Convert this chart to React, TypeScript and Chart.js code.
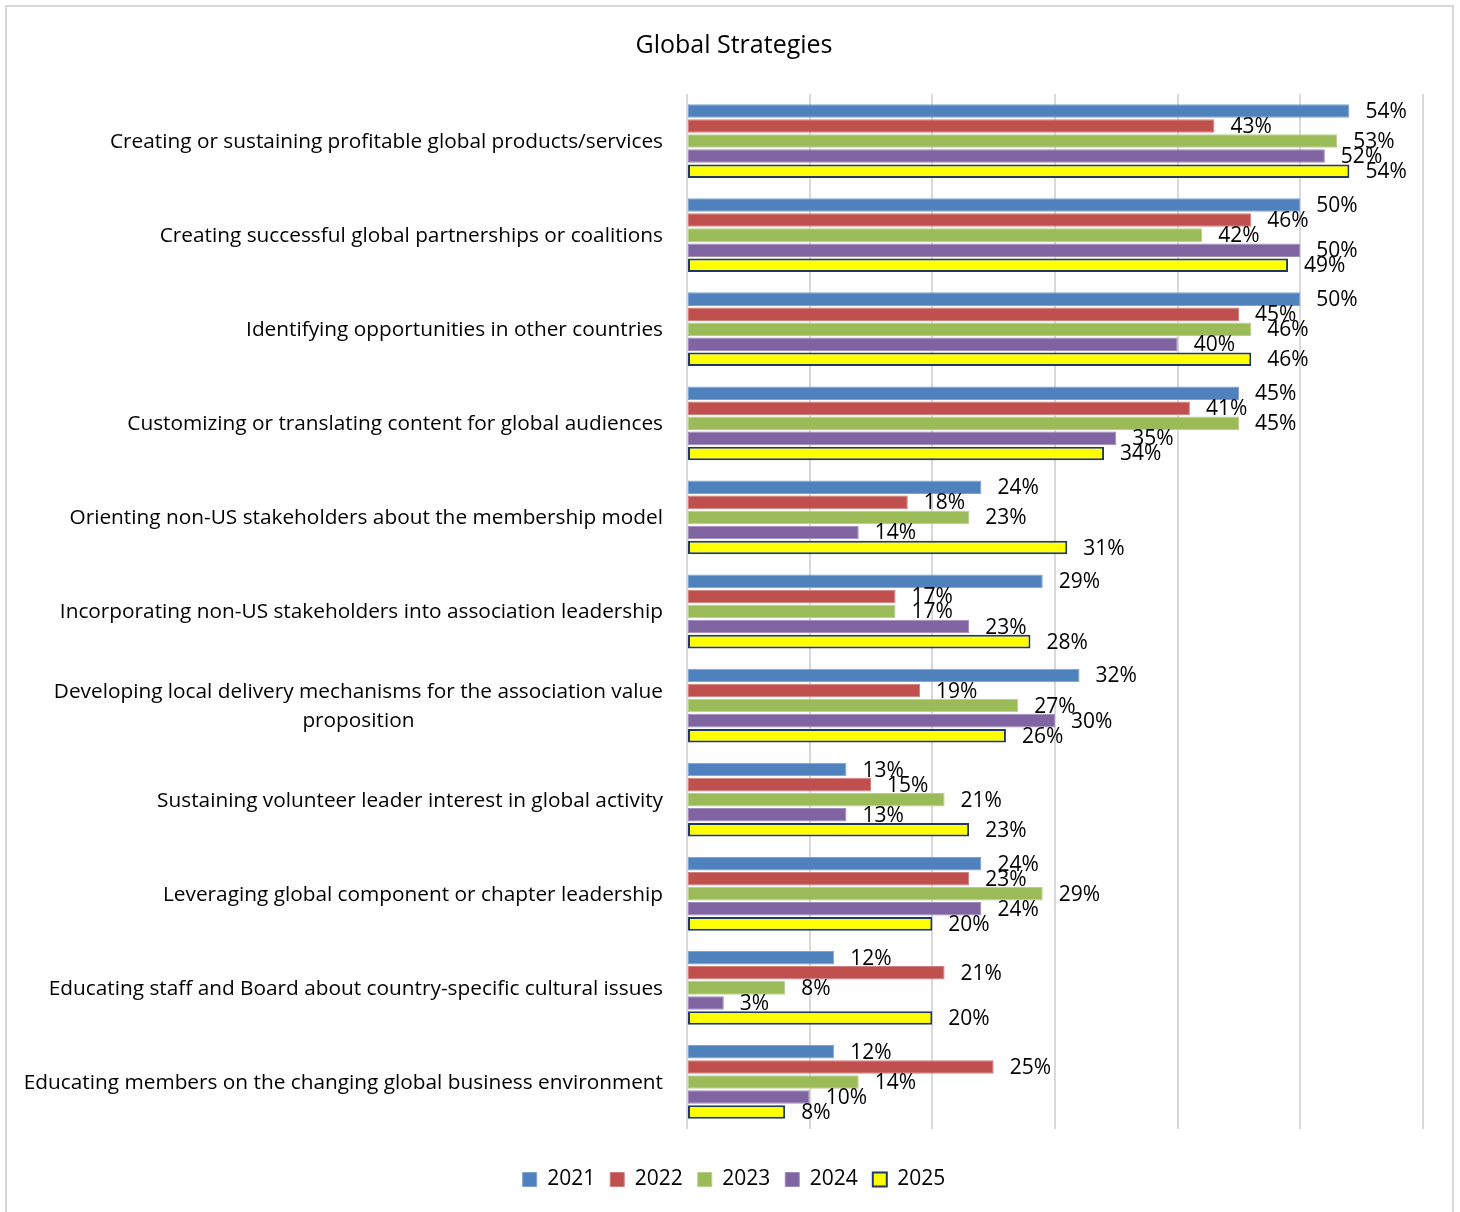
import React, { useEffect, useRef } from "react";
import { Chart, registerables } from "chart.js";

Chart.register(...registerables);

const categories: (string | string[])[] = [
  "Creating or sustaining profitable global products/services",
  "Creating successful global partnerships or coalitions",
  "Identifying opportunities in other countries",
  "Customizing or translating content for global audiences",
  "Orienting non-US stakeholders about the membership model",
  "Incorporating non-US stakeholders into association leadership",
  ["Developing local delivery mechanisms for the association value", "proposition"],
  "Sustaining volunteer leader interest in global activity",
  "Leveraging global component or chapter leadership",
  "Educating staff and Board about country-specific cultural issues",
  "Educating members on the changing global business environment",
];

const years = ["2021", "2022", "2023", "2024", "2025"];

const v2021 = [54, 50, 50, 45, 24, 29, 32, 13, 24, 12, 12];
const v2022 = [43, 46, 45, 41, 18, 17, 19, 15, 23, 21, 25];
const v2023 = [53, 42, 46, 45, 23, 17, 27, 21, 29, 8, 14];
const v2024 = [52, 50, 40, 35, 14, 23, 30, 13, 24, 3, 10];
const v2025 = [54, 49, 46, 34, 31, 28, 26, 23, 20, 20, 8];

const xMax = 60;
const xStep = 10;

const FONT = "'Open Sans', 'Noto Sans', sans-serif";

const fills = ["#4F81BD", "#C0504D", "#9BBB59", "#8064A2", "#FFFF00"];
const borders = ["#7FA3D0", "#D27F7D", "#B8CF8C", "#A08CBB", "#1F3864"];
const borderWidths = [1, 1, 1, 1, 2];

const categoryLabelsPlugin = {
  id: "categoryLabels",
  afterDraw(chart: any) {
    const { ctx, chartArea } = chart;
    const yScale = chart.scales.y;
    ctx.save();
    ctx.font = `20.8px ${FONT}`;
    ctx.fillStyle = "#000";
    ctx.textAlign = "center";
    ctx.textBaseline = "middle";
    const right = chartArea.left - 24;
    const lineH = 29;
    categories.forEach((cat, i) => {
      const lines = Array.isArray(cat) ? cat : [cat];
      const maxW = Math.max(...lines.map((l) => ctx.measureText(l).width));
      const cx = right - maxW / 2;
      const cy = yScale.getPixelForTick(i) + 1;
      const y0 = cy - ((lines.length - 1) * lineH) / 2;
      lines.forEach((l, j) => ctx.fillText(l, cx, y0 + j * lineH));
    });
    ctx.restore();
  },
};

const valueLabelsPlugin = {
  id: "valueLabels",
  afterDatasetsDraw(chart: any) {
    const { ctx } = chart;
    ctx.save();
    ctx.font = `21px ${FONT}`;
    ctx.fillStyle = "#000";
    ctx.textAlign = "left";
    ctx.textBaseline = "middle";
    chart.data.datasets.forEach((ds: any, di: number) => {
      const meta = chart.getDatasetMeta(di);
      meta.data.forEach((bar: any, i: number) => {
        ctx.fillText(`${ds.data[i]}%`, bar.x + 16, bar.y + 1);
      });
    });
    ctx.restore();
  },
};

export default function App() {
  const canvasRef = useRef<HTMLCanvasElement | null>(null);

  useEffect(() => {
    if (!canvasRef.current) return;
    const series = [v2021, v2022, v2023, v2024, v2025];
    const chart = new Chart(canvasRef.current, {
      type: "bar",
      data: {
        labels: categories.map((c) => (Array.isArray(c) ? c.join(" ") : c)),
        datasets: years.map((y, k) => ({
          label: y,
          data: series[k],
          backgroundColor: fills[k],
          borderColor: borders[k],
          borderWidth: borderWidths[k],
          borderSkipped: false,
        })),
      },
      options: {
        indexAxis: "y",
        responsive: false,
        animation: false,
        events: [],
        layout: { padding: { left: 45, right: 37, top: 0, bottom: 12 } },
        scales: {
          x: {
            min: 0,
            max: xMax,
            ticks: { display: false, stepSize: xStep },
            grid: { color: "#D9D9D9", lineWidth: 2, drawTicks: false },
            border: { display: false },
            afterFit(scale: any) {
              scale.height = 25;
            },
          },
          y: {
            ticks: { display: false },
            grid: { display: false, drawTicks: false },
            border: { display: false },
            afterFit(scale: any) {
              scale.width = 642;
            },
          },
        },
        plugins: {
          title: {
            display: true,
            text: "Global Strategies",
            color: "#000",
            font: { family: FONT, size: 25, weight: "normal" },
            padding: { top: 31, bottom: 33 },
          },
          legend: {
            position: "bottom",
            labels: {
              boxWidth: 14,
              boxHeight: 14,
              padding: 15,
              color: "#000",
              font: { family: FONT, size: 21 },
            },
          },
          tooltip: { enabled: false },
        },
      },
      plugins: [categoryLabelsPlugin, valueLabelsPlugin],
    });
    return () => chart.destroy();
  }, []);

  return (
    <div
      style={{
        position: "absolute",
        left: 0,
        top: 0,
        width: 1460,
        height: 1212,
        overflow: "hidden",
        background: "#fff",
      }}
    >
      <div
        style={{
          position: "absolute",
          left: 5,
          top: 5,
          width: 1449,
          height: 1230,
          border: "2px solid #D9D9D9",
          boxSizing: "border-box",
        }}
      />
      <canvas
        ref={canvasRef}
        width={1460}
        height={1212}
        style={{ position: "absolute", left: 0, top: 0 }}
      />
    </div>
  );
}
